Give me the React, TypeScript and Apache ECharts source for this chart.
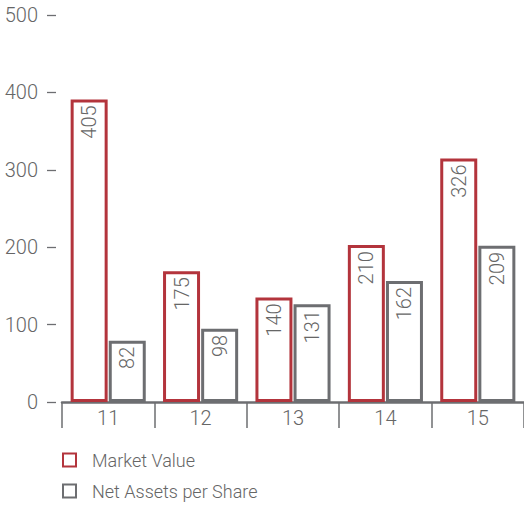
import React, { useEffect, useRef } from "react";
import * as echarts from "echarts";

const categories = ["11", "12", "13", "14", "15"];
const marketValue = [405, 175, 140, 210, 326];
const netAssetsPerShare = [82, 98, 131, 162, 209];
const seriesNames = ["Market Value", "Net Assets per Share"];

const RED = "#b3343c";
const GRAY = "#6d6e71";
const TEXT = "#666666";
const FONT = "Roboto, 'Noto Sans', sans-serif";

export default function App() {
  const ref = useRef<HTMLDivElement>(null);
  useEffect(() => {
    if (!ref.current) return;
    const chart = echarts.init(ref.current, undefined, { renderer: "svg" });
    const labelCfg = {
      show: true,
      position: "insideTop" as const,
      rotate: 90,
      align: "right" as const,
      verticalAlign: "middle" as const,
      distance: 6,
      color: TEXT,
      fontSize: 20,
      fontFamily: FONT,
      fontWeight: 300 as const,
      formatter: (p: any) => String(p.value),
    };
    chart.setOption({
      animation: false,
      backgroundColor: "#ffffff",
      grid: { left: 62, top: 15, width: 464, height: 387, containLabel: false },
      legend: {
        orient: "vertical",
        left: 62,
        top: 451,
        padding: 0,
        itemWidth: 13,
        itemHeight: 13,
        itemGap: 13,
        icon: "rect",
        textStyle: { color: TEXT, fontSize: 18, fontFamily: FONT, fontWeight: 300, padding: [0, 0, 0, 11] },
        data: seriesNames,
      },
      xAxis: {
        type: "category",
        data: categories,
        boundaryGap: true,
        axisLine: { show: true, lineStyle: { color: GRAY, width: 2.5 } },
        axisTick: { show: true, length: 26, lineStyle: { color: GRAY, width: 1.5 } },
        axisLabel: { color: TEXT, fontSize: 20, fontFamily: FONT, fontWeight: 300, margin: 6 },
      },
      yAxis: [
        {
          type: "value",
          min: 0,
          max: 500,
          interval: 100,
          offset: 6,
          axisLine: { show: false },
          axisTick: { show: true, length: 9, lineStyle: { color: GRAY, width: 1.3 } },
          axisLabel: { color: TEXT, fontSize: 20, fontFamily: FONT, fontWeight: 300, margin: 18 },
          splitLine: { show: false },
        },
        {
          type: "value",
          min: 0,
          max: 518,
          show: false,
          splitLine: { show: false },
        },
      ],
      series: [
        {
          name: seriesNames[0],
          type: "bar",
          yAxisIndex: 1,
          data: marketValue,
          barWidth: 37,
          barGap: "3%",
          itemStyle: { color: "#ffffff", borderColor: RED, borderWidth: 3 },
          label: labelCfg,
        },
        {
          name: seriesNames[1],
          type: "bar",
          yAxisIndex: 1,
          data: netAssetsPerShare,
          barWidth: 37,
          barGap: "3%",
          itemStyle: { color: "#ffffff", borderColor: GRAY, borderWidth: 3 },
          label: labelCfg,
        },
      ],
    });
    return () => chart.dispose();
  }, []);
  return (
    <div
      ref={ref}
      style={{ position: "absolute", left: 0, top: 0, width: 524, height: 509, overflow: "hidden" }}
    />
  );
}
